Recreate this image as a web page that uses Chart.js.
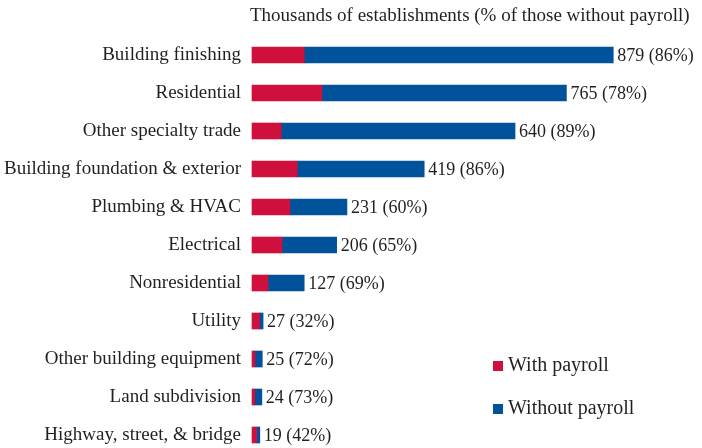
<!DOCTYPE html>
<html>
<head>
<meta charset="utf-8">
<script src="https://cdn.jsdelivr.net/npm/chart.js@4.4.1/dist/chart.umd.min.js"></script>
<style>
  html, body { margin: 0; padding: 0; background: #fff; }
  #wrap { width: 702px; height: 448px; position: relative; }
</style>
</head>
<body>
<div id="wrap"><canvas id="barChart"></canvas></div>
<script>
/* Chart data */
const categories = [
  "Building finishing", "Residential", "Other specialty trade",
  "Building foundation & exterior", "Plumbing & HVAC", "Electrical",
  "Nonresidential", "Utility", "Other building equipment",
  "Land subdivision", "Highway, street, & bridge"
];
const withPayroll = [127, 170, 71, 110, 92, 73, 39, 18, 7, 6.5, 11];
const withoutPayroll = [752, 595, 569, 309, 139, 133, 88, 9, 18, 17.5, 8];
const totals = [879, 765, 640, 419, 231, 206, 127, 27, 25, 24, 19];
const pctWithout = [86, 78, 89, 86, 60, 65, 69, 32, 72, 73, 42];
const seriesNames = ["With payroll", "Without payroll"];

const red = "#d0103c";
const blue = "#00539b";
const textColor = "#231f20";
const serif = "'Liberation Serif', 'Times New Roman', serif";

/* Title, value labels and legend drawn on the canvas */
const extras = {
  id: "extras",
  afterDatasetsDraw(chart) {
    const c = chart.ctx;
    const area = chart.chartArea;
    c.save();
    c.fillStyle = textColor;

    // title
    c.font = "19px " + serif;
    c.textBaseline = "middle";
    c.textAlign = "left";
    c.fillText("Thousands of establishments (% of those without payroll)", area.left - 2, 16);

    // value labels at bar ends
    const meta = chart.getDatasetMeta(1);
    c.font = "18px " + serif;
    meta.data.forEach((bar, i) => {
      c.fillText(totals[i] + " (" + pctWithout[i] + "%)", bar.x + 4, bar.y + 1);
    });

    // legend
    c.font = "20px " + serif;
    const colors = [red, blue];
    seriesNames.forEach((name, i) => {
      const y = 366 + i * 43;
      c.fillStyle = colors[i];
      c.fillRect(493, y - 5, 10, 10);
      c.fillStyle = textColor;
      c.fillText(name, 508, y);
    });
    c.restore();
  }
};

const ctx = document.getElementById("barChart").getContext("2d");
const barChart = new Chart(ctx, {
  type: "bar",
  data: {
    labels: categories,
    datasets: [
      { label: seriesNames[0], data: withPayroll, backgroundColor: red },
      { label: seriesNames[1], data: withoutPayroll, backgroundColor: blue }
    ]
  },
  options: {
    indexAxis: "y",
    responsive: true,
    maintainAspectRatio: false,
    animation: false,
    layout: { padding: { top: 55, bottom: 13, left: 0, right: 39 } },
    datasets: { bar: { barThickness: 16, clip: false } },
    scales: {
      x: {
        stacked: true,
        display: false,
        min: 0,
        max: 1000
      },
      y: {
        stacked: true,
        offset: false,
        grid: { display: false, drawTicks: false },
        border: { display: false },
        ticks: {
          color: textColor,
          padding: 11,
          font: { family: serif, size: 19 }
        },
        afterFit(scale) {
          scale.width = 252;
          scale.paddingTop = 0;
          scale.paddingBottom = 0;
        }
      }
    },
    plugins: {
      legend: { display: false },
      tooltip: { enabled: false }
    }
  },
  plugins: [extras]
});
</script>
</body>
</html>
